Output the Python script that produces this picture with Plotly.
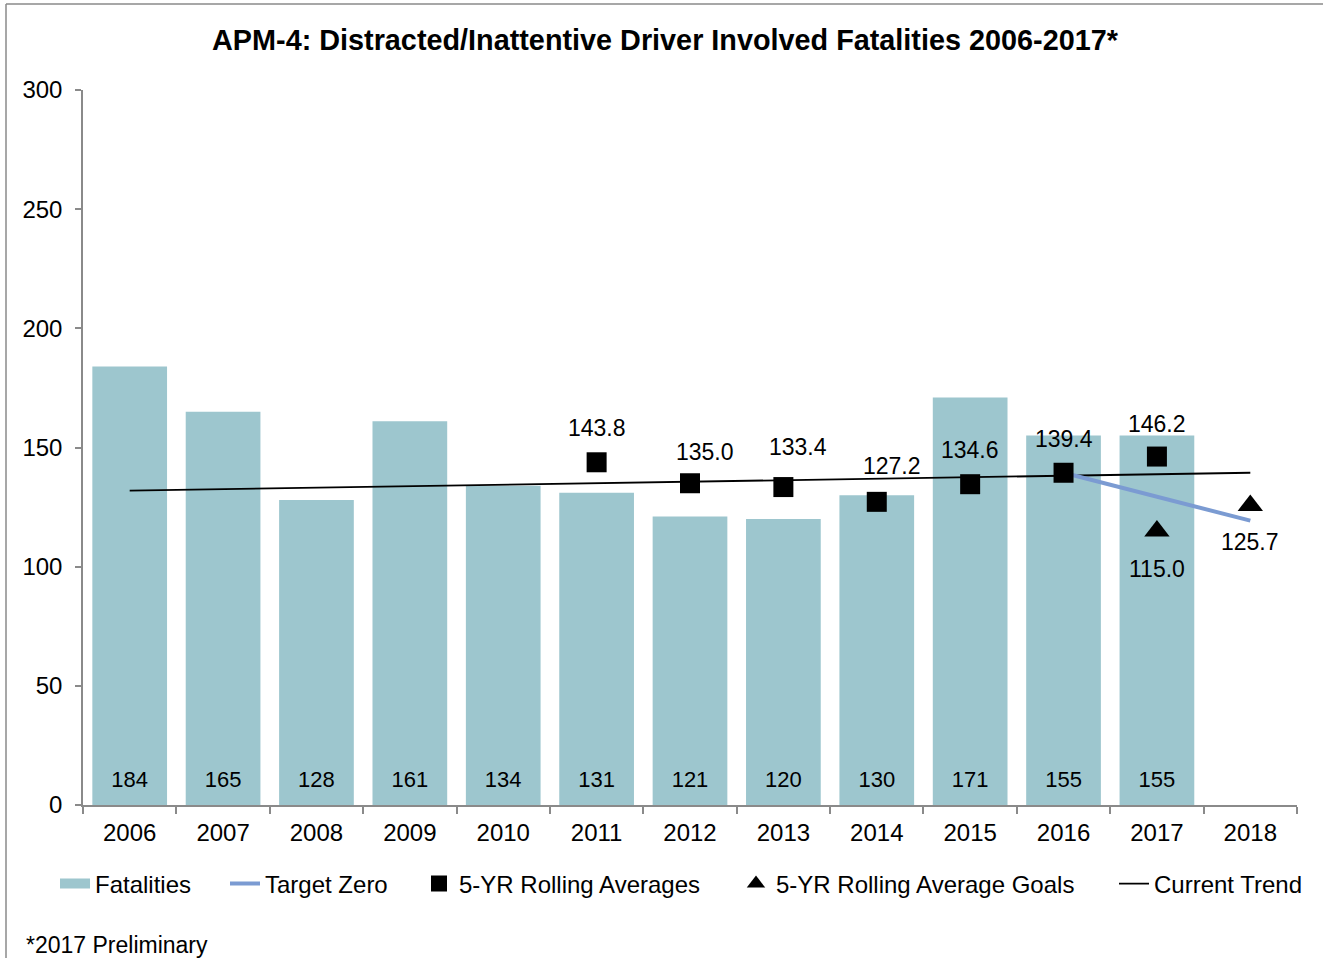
import plotly.graph_objects as go

# ---- data ----
years = ["2006", "2007", "2008", "2009", "2010", "2011", "2012", "2013", "2014", "2015", "2016", "2017", "2018"]
fatality_years = ["2006", "2007", "2008", "2009", "2010", "2011", "2012", "2013", "2014", "2015", "2016", "2017"]
fatalities = [184, 165, 128, 161, 134, 131, 121, 120, 130, 171, 155, 155]

avg_years = ["2011", "2012", "2013", "2014", "2015", "2016", "2017"]
rolling_avgs = [143.8, 135.0, 133.4, 127.2, 134.6, 139.4, 146.2]

goal_years = ["2017", "2018"]
goals = [115.0, 125.7]

target_years = ["2016", "2018"]
target_zero = [139.4, 119.3]

trend_years = ["2006", "2018"]
trend_vals = [131.9, 139.4]

# label offsets (pixels) -- styling only
avg_dx = [0, 15, 15, 15, 0, 0, 0]
avg_dy = [34, 31, 40, 36, 34, 34, 33]
goal_dy = [-38, -37]

FONT = "Liberation Sans, Arial, sans-serif"
BAR = "#9dc6ce"
TARGET = "#7b9bd2"
AXIS = "#8a8a8a"

L, R, T, B = 83, 26, 90, 153
W, H = 1323, 958
pw, ph = W - L - R, H - T - B

def px_x(p):
    return (p - L) / pw

def px_y(p):
    return (H - B - p) / ph

fig = go.Figure()

fig.add_trace(go.Bar(
    x=fatality_years, y=fatalities, name="Fatalities",
    marker=dict(color=BAR, line=dict(width=0)),
    width=0.8, showlegend=False,
))
# legend swatch for the bars (wide rectangle like the original)
fig.add_trace(go.Scatter(
    x=[None], y=[None], name="Fatalities", mode="lines",
    line=dict(color=BAR, width=16), legend="legend", hoverinfo="skip",
))
# value labels at bar base
fig.add_trace(go.Scatter(
    x=fatality_years, y=[10] * len(fatality_years),
    text=[str(v) for v in fatalities], mode="text",
    textfont=dict(family=FONT, size=22, color="#000"),
    showlegend=False, hoverinfo="skip",
))
fig.add_trace(go.Scatter(
    x=trend_years, y=trend_vals, name="Current Trend", mode="lines",
    line=dict(color="#000", width=1.8), legend="legend5",
))
fig.add_trace(go.Scatter(
    x=target_years, y=target_zero, name="Target Zero", mode="lines",
    line=dict(color=TARGET, width=4), legend="legend2",
))
fig.add_trace(go.Scatter(
    x=avg_years, y=rolling_avgs, name="5-YR Rolling Averages", mode="markers",
    marker=dict(symbol="square", size=20, color="#000"), legend="legend3",
))
fig.add_trace(go.Scatter(
    x=goal_years, y=goals, name="5-YR Rolling Average Goals", mode="markers",
    marker=dict(symbol="triangle-up", size=22, color="#000"), legend="legend4",
))

annotations = []
for yr, v, dx, dy in zip(avg_years, rolling_avgs, avg_dx, avg_dy):
    annotations.append(dict(x=years.index(yr), y=v, text=f"{v:.1f}", showarrow=False,
                            xshift=dx, yshift=dy,
                            font=dict(family=FONT, size=23, color="#000")))
for yr, v, dy in zip(goal_years, goals, goal_dy):
    annotations.append(dict(x=years.index(yr), y=v, text=f"{v:.1f}", showarrow=False,
                            yshift=dy,
                            font=dict(family=FONT, size=23, color="#000")))

annotations.append(dict(xref="paper", yref="paper", x=px_x(24), y=px_y(945),
                        xanchor="left", yanchor="middle", showarrow=False,
                        text="*2017 Preliminary",
                        font=dict(family=FONT, size=23, color="#000")))

shapes = [
    dict(type="line", xref="paper", yref="paper", x0=px_x(6), x1=px_x(6),
         y0=px_y(H + 5), y1=px_y(4), line=dict(color=AXIS, width=1.5)),
    dict(type="line", xref="paper", yref="paper", x0=px_x(6), x1=px_x(W + 5),
         y0=px_y(4), y1=px_y(4), line=dict(color=AXIS, width=1.5)),
]

def legend_at(left_px):
    return dict(orientation="h", xref="container", x=left_px / W, xanchor="left",
                yref="container", y=1 - 884 / H, yanchor="middle",
                font=dict(family=FONT, size=24, color="#000"),
                bgcolor="rgba(0,0,0,0)", borderwidth=0)

fig.update_layout(
    width=W, height=H,
    margin=dict(l=L, r=R, t=T, b=B, pad=0, autoexpand=False),
    paper_bgcolor="white", plot_bgcolor="white",
    font=dict(family=FONT, size=22, color="#000"),
    title=dict(text="APM-4: Distracted/Inattentive Driver Involved Fatalities 2006-2017*",
               x=665 / W, xanchor="center", yref="container", y=1 - 40 / H, yanchor="middle",
               font=dict(family=FONT, size=28.8, color="#000", weight="bold")),
    showlegend=True,
    legend=legend_at(55),
    legend2=legend_at(225),
    legend3=legend_at(419),
    legend4=legend_at(736),
    legend5=legend_at(1114),
    bargap=0.2,
    xaxis=dict(type="category", categoryorder="array", categoryarray=years,
               range=[-0.5, 12.5], showline=True, linecolor=AXIS, linewidth=1.5,
               ticks="outside", tickson="boundaries", ticklen=7, tickcolor=AXIS, tickwidth=1.5,
               ticklabelstandoff=5,
               showgrid=False, zeroline=False,
               tickfont=dict(family=FONT, size=24, color="#000")),
    yaxis=dict(range=[0, 300], tickvals=[0, 50, 100, 150, 200, 250, 300],
               showline=True, linecolor=AXIS, linewidth=1.5,
               ticks="outside", ticklen=6, tickcolor=AXIS, tickwidth=1.5,
               ticklabelstandoff=8,
               showgrid=False, zeroline=False,
               tickfont=dict(family=FONT, size=24, color="#000")),
    annotations=annotations,
    shapes=shapes,
)

fig.write_html("out.html", config={"displayModeBar": False},
               post_script="document.body.style.margin='0px';")
